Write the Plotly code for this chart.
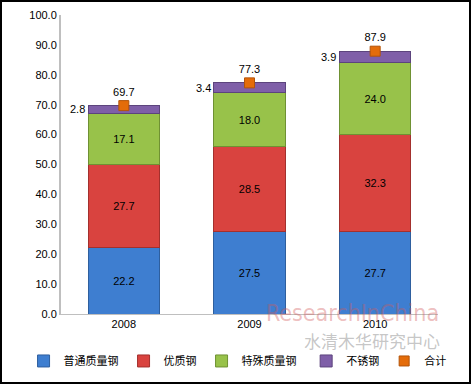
import plotly.graph_objects as go

years = ["2008", "2009", "2010"]
putong = [22.2, 27.5, 27.7]
youzhi = [27.7, 28.5, 32.3]
teshu = [17.1, 18.0, 24.0]
buxiu = [2.8, 3.4, 3.9]
heji = [69.7, 77.3, 87.9]
names = ["普通质量钢", "优质钢", "特殊质量钢", "不锈钢", "合计"]
ytick_vals = [0, 10, 20, 30, 40, 50, 60, 70, 80, 90, 100]

colors = ["#3E7ED0", "#D9433F", "#98C24A", "#7F5FA8"]
edges = ["#2E5F9E", "#A3302D", "#6F9133", "#5C447D"]
legend_ids = ["legend", "legend", "legend", "legend2", "legend2"]

font_fam = "Liberation Sans, Noto Sans CJK SC, sans-serif"
fig = go.Figure()
series = [putong, youzhi, teshu, buxiu]
for i, s in enumerate(series):
    fig.add_trace(go.Bar(
        x=years, y=s, name=names[i], legend=legend_ids[i],
        marker=dict(color=colors[i], line=dict(color=edges[i], width=1)),
        text=[f"{v:.1f}" for v in s] if i < 3 else None,
        textposition="inside" if i < 3 else "none",
        insidetextanchor="middle",
        textfont=dict(color="black", size=11, family=font_fam),
        width=0.57,
    ))

fig.add_trace(go.Scatter(
    x=years, y=heji, name=names[4], mode="markers+text", legend=legend_ids[4],
    marker=dict(symbol="square", size=10, color="#E46C0A",
                line=dict(color="#B3540A", width=1)),
    text=[f"{v:.1f}" for v in heji], textposition="top center",
    textfont=dict(color="black", size=11, family=font_fam),
    cliponaxis=False,
))

for j, yr in enumerate(years):
    base = putong[j] + youzhi[j] + teshu[j]
    fig.add_annotation(x=j, y=base + buxiu[j] / 2, text=f"{buxiu[j]:.1f}",
                       showarrow=False, xanchor="right", xshift=-37,
                       font=dict(color="black", size=11, family=font_fam))

# watermark
fig.add_annotation(xref="paper", yref="paper", x=1.008, y=0.003,
                   text="ResearchInChina", showarrow=False, xanchor="right",
                   yanchor="middle",
                   font=dict(size=23, color="rgba(210,90,90,0.4)",
                             family="Liberation Sans Narrow, DejaVu Sans Condensed, sans-serif"))
fig.add_annotation(xref="paper", yref="paper", x=1.01, y=-0.087,
                   text="水清木华研究中心", showarrow=False, xanchor="right",
                   yanchor="middle",
                   font=dict(size=17, color="rgba(150,150,150,0.55)",
                             family="Noto Sans CJK SC"))

leg_common = dict(orientation="h", yref="container", y=0.06, yanchor="middle",
                  xref="container", xanchor="left",
                  font=dict(size=11, family="Noto Sans CJK SC, sans-serif"),
                  itemwidth=30, traceorder="normal", bgcolor="rgba(0,0,0,0)")

fig.update_layout(
    barmode="stack",
    width=471, height=384,
    margin=dict(l=61, r=33, t=15, b=70, autoexpand=False),
    paper_bgcolor="white", plot_bgcolor="white",
    font=dict(family=font_fam, size=11, color="black"),
    showlegend=True,
    legend=dict(x=0.05, **leg_common),
    legend2=dict(x=0.65, **leg_common),
    shapes=[dict(type="rect", xref="paper", yref="paper",
                 x0=-60/377, x1=1 + 32/377, y0=-69/299, y1=1 + 14/299,
                 line=dict(color="black", width=2))],
)
fig.update_yaxes(range=[0, 100], tickvals=ytick_vals,
                 ticktext=[f"{v:.1f}" for v in ytick_vals],
                 showgrid=False, showline=True, linecolor="#BFBFBF", linewidth=2,
                 ticks="", zeroline=False, tickfont=dict(size=11))
fig.update_xaxes(type="category", showgrid=False, showline=True,
                 linecolor="#BFBFBF", linewidth=1,
                 ticks="", tickfont=dict(size=11))

fig.write_html("out.html", config={"displayModeBar": False},
               post_script="document.body.style.margin='0';document.body.style.overflow='hidden';")
